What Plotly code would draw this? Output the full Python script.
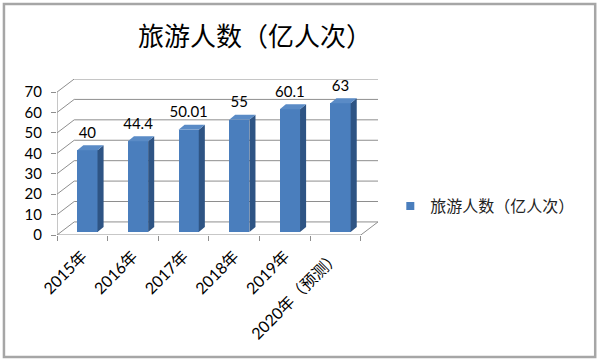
import plotly.graph_objects as go

# ---- data ----
categories = ["2015年", "2016年", "2017年", "2018年", "2019年", "2020年（预测）"]
values = [40, 44.4, 50.01, 55, 60.1, 63]
value_labels = ["40", "44.4", "50.01", "55", "60.1", "63"]
y_ticks = [0, 10, 20, 30, 40, 50, 60, 70]
series_name = "旅游人数（亿人次）"
title_text = "旅游人数（亿人次）"

# ---- geometry / style ----
W, H = 600, 360
L, T = 57, 79
PW = 320.7
PH = 156.0
R = W - L - PW
B = H - T - PH

DX, DY = 0.34, 6.4          # depth offset of the back wall (axis units)
BAR_SHIFT = 0.10            # bars sit at mid depth
BAR_W = 0.40
BAR_BASE = 1.5
SX, SY = 0.12, 2.45         # bar depth (side / top faces)
GRID = "#8E8E8E"
FRONT = "#4A7EBD"
SIDE = "#2E5484"
TOP = "#5A8BC6"

n = len(categories)
xc = list(range(n))
xb = [i + BAR_SHIFT for i in xc]
tops = [v + BAR_BASE for v in values]

fig = go.Figure()

# front faces
fig.add_trace(go.Bar(
    x=xb, y=values, base=[BAR_BASE] * n, width=BAR_W,
    marker=dict(color=FRONT, line=dict(width=0)),
    showlegend=False, hoverinfo="skip",
))

# side faces
sx, sy = [], []
for x, t in zip(xb, tops):
    r = x + BAR_W / 2
    sx += [r, r + SX, r + SX, r, r, None]
    sy += [BAR_BASE, BAR_BASE + SY, t + SY, t, BAR_BASE, None]
fig.add_trace(go.Scatter(x=sx, y=sy, mode="lines", fill="toself",
                         fillcolor=SIDE, line=dict(width=0, color=SIDE),
                         showlegend=False, hoverinfo="skip"))
# top faces
tx, ty = [], []
for x, t in zip(xb, tops):
    l, r = x - BAR_W / 2, x + BAR_W / 2
    tx += [l, l + SX, r + SX, r, l, None]
    ty += [t, t + SY, t + SY, t, t, None]
fig.add_trace(go.Scatter(x=tx, y=ty, mode="lines", fill="toself",
                         fillcolor=TOP, line=dict(width=0, color=TOP),
                         showlegend=False, hoverinfo="skip"))

# data labels
fig.add_trace(go.Scatter(
    x=xb, y=[t + 8.0 for t in tops], mode="text", text=value_labels,
    textposition="middle center",
    textfont=dict(family="Lato, sans-serif", size=15, color="#000000"),
    showlegend=False, hoverinfo="skip", cliponaxis=False,
))

# legend entry
fig.add_trace(go.Scatter(
    x=[None], y=[None], mode="markers", name=series_name,
    marker=dict(symbol="square", size=8, color=FRONT),
))

# back wall grid + left wall + floor
shapes = []
x_left, x_right = -0.5, n - 0.5
for v in y_ticks:
    shapes.append(dict(type="line", xref="x", yref="y", layer="below",
                       x0=x_left, y0=v, x1=x_left + DX, y1=v + DY,
                       line=dict(color=GRID, width=1)))
    shapes.append(dict(type="line", xref="x", yref="y", layer="below",
                       x0=x_left + DX, y0=v + DY, x1=x_right + DX, y1=v + DY,
                       line=dict(color=GRID, width=1)))
shapes.append(dict(type="line", xref="x", yref="y", layer="below",
                   x0=x_left, y0=0, x1=x_left, y1=y_ticks[-1],
                   line=dict(color=GRID, width=1)))
shapes.append(dict(type="line", xref="x", yref="y", layer="below",
                   x0=x_left, y0=0, x1=x_right, y1=0,
                   line=dict(color=GRID, width=1)))
shapes.append(dict(type="line", xref="x", yref="y", layer="below",
                   x0=x_right, y0=0, x1=x_right + DX, y1=DY,
                   line=dict(color=GRID, width=1)))

# outer frame
def px_x(p):
    return (p - L) / PW

def px_y(p):
    return (H - B - p) / PH

shapes.append(dict(type="rect", xref="paper", yref="paper",
                   x0=px_x(4), x1=px_x(594.7), y0=px_y(4), y1=px_y(357),
                   line=dict(color="#A6A6A6", width=2.5)))

fig.update_layout(
    width=W, height=H,
    margin=dict(l=L, r=R, t=T, b=B, pad=0, autoexpand=False),
    paper_bgcolor="white", plot_bgcolor="rgba(0,0,0,0)",
    shapes=shapes,
    title=dict(text=title_text, x=255 / W, xref="container", xanchor="center",
               y=1 - 37 / H, yref="container", yanchor="middle",
               font=dict(family="Noto Sans CJK SC", size=26, color="#000000")),
    legend=dict(x=px_x(390), y=px_y(206), xanchor="left", yanchor="middle",
                font=dict(family="Noto Sans CJK SC", size=16, color="#222222"),
                bgcolor="rgba(0,0,0,0)", itemwidth=30),
    showlegend=True,
    bargap=0,
)
fig.update_xaxes(
    range=[x_left, x_right + DX], tickmode="array", tickvals=xc, ticktext=categories,
    tickangle=-45, ticks="", showgrid=False, zeroline=False, showline=False,
    ticklabelstandoff=8,
    tickfont=dict(family="Lato, Noto Sans CJK SC", size=16, color="#000000"),
    minor=dict(tickmode="linear", tick0=-0.5, dtick=1, ticks="outside",
               ticklen=5, tickcolor=GRID, tickwidth=1, showgrid=False),
)
fig.update_yaxes(
    range=[0, y_ticks[-1] + DY], tickmode="array", tickvals=y_ticks,
    ticks="outside", ticklen=5, tickcolor=GRID, tickwidth=1,
    showgrid=False, zeroline=False, showline=False, ticklabelstandoff=6,
    tickfont=dict(family="Lato, sans-serif", size=15, color="#000000"),
)

fig.write_html("out.html", config={"displayModeBar": False},
               post_script="document.body.style.margin='0';document.body.style.padding='0';")
